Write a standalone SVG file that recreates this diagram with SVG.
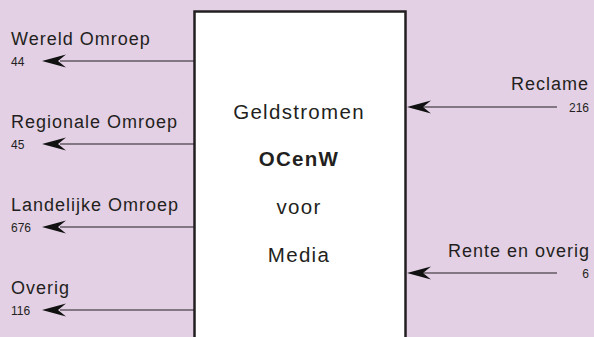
<svg xmlns="http://www.w3.org/2000/svg" width="594" height="337" viewBox="0 0 594 337">
<defs>
<style>
.lbl{font-family:"Liberation Sans",Arial,sans-serif;font-size:18px;letter-spacing:1px;fill:#231f20}
.num{font-family:"Liberation Sans",Arial,sans-serif;font-size:12px;fill:#231f20}
.ctr{font-family:"Liberation Sans",Arial,sans-serif;font-size:20.5px;letter-spacing:1.3px;fill:#231f20;text-anchor:middle}
.r{text-anchor:end}
.ln{stroke:#231f20;stroke-width:1.2;fill:none}
.ah{fill:#111}
</style>
</defs>
<rect x="0" y="0" width="594" height="337" fill="#e3d0e5"/>
<g id="connectors">
<line class="ln" x1="60" y1="61" x2="194" y2="61"/>
<path class="ah" d="M42,61 L66,54.5 L58,61 L66,67.5 Z"/>
<line class="ln" x1="60" y1="144" x2="194" y2="144"/>
<path class="ah" d="M42,144 L66,137.5 L58,144 L66,150.5 Z"/>
<line class="ln" x1="60" y1="227" x2="194" y2="227"/>
<path class="ah" d="M42,227 L66,220.5 L58,227 L66,233.5 Z"/>
<line class="ln" x1="60" y1="310" x2="194" y2="310"/>
<path class="ah" d="M42,310 L66,303.5 L58,310 L66,316.5 Z"/>
<line class="ln" x1="420" y1="107" x2="557" y2="107"/>
<path class="ah" d="M407,107 L431,100.5 L423,107 L431,113.5 Z"/>
<line class="ln" x1="420" y1="273" x2="557" y2="273"/>
<path class="ah" d="M407,273 L431,266.5 L423,273 L431,279.5 Z"/>
</g>
<g id="box">
<rect x="194.5" y="11.5" width="211" height="340" fill="#ffffff" stroke="#231f20" stroke-width="2.5"/>
<text class="ctr" x="299" y="119">Geldstromen</text>
<text class="ctr" x="299" y="166" font-weight="bold" letter-spacing="0.4">OCenW</text>
<text class="ctr" x="299" y="214">voor</text>
<text class="ctr" x="299" y="262">Media</text>
</g>
<g id="wereld"><text class="lbl" x="11" y="45">Wereld Omroep</text><text class="num" x="11" y="66">44</text></g>
<g id="regionale"><text class="lbl" x="11" y="128">Regionale Omroep</text><text class="num" x="11" y="149">45</text></g>
<g id="landelijke"><text class="lbl" x="11" y="211">Landelijke Omroep</text><text class="num" x="11" y="232">676</text></g>
<g id="overig"><text class="lbl" x="11" y="294">Overig</text><text class="num" x="11" y="315">116</text></g>
<g id="reclame"><text class="lbl r" x="589" y="90">Reclame</text><text class="num r" x="589" y="112">216</text></g>
<g id="rente"><text class="lbl r" x="590" y="257">Rente en overig</text><text class="num r" x="589" y="278">6</text></g>
</svg>
